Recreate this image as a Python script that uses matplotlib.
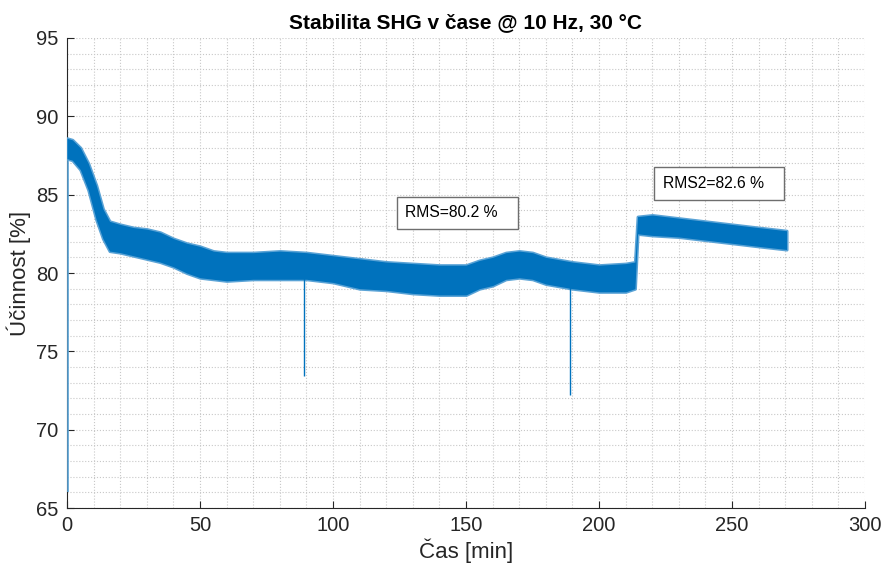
import matplotlib
matplotlib.use("Agg")
import matplotlib.pyplot as plt
from matplotlib.patches import Rectangle
import numpy as np

plt.rcParams.update({
    "font.family": ["Liberation Sans", "DejaVu Sans"],
    "axes.edgecolor": "#262626",
    "xtick.color": "#262626",
    "ytick.color": "#262626",
})

# --- data: envelope of the noisy signal -----------------------------------
t_min = [0, 2, 5, 8, 11, 13.5, 16, 20, 25, 30, 35, 40, 45, 50, 55, 60, 70,
         80, 90, 100, 110, 120, 130, 140, 150, 155, 160, 165, 170, 175, 180,
         190, 200, 210, 213.5, 214.5, 220, 230, 240, 250, 260, 270.5]
eff_upper = [88.6, 88.5, 88.0, 87.0, 85.6, 84.1, 83.3, 83.1, 82.9, 82.8,
             82.6, 82.2, 81.9, 81.7, 81.4, 81.3, 81.3, 81.4, 81.3, 81.1,
             80.9, 80.7, 80.6, 80.5, 80.5, 80.8, 81.0, 81.3, 81.4, 81.3,
             81.0, 80.7, 80.5, 80.6, 80.7, 83.6, 83.7, 83.5, 83.3, 83.1,
             82.9, 82.7]
eff_lower = [87.3, 87.2, 86.6, 85.3, 83.4, 82.2, 81.4, 81.3, 81.1, 80.9,
             80.7, 80.4, 80.0, 79.7, 79.6, 79.5, 79.6, 79.6, 79.6, 79.4,
             79.0, 78.9, 78.7, 78.6, 78.6, 79.0, 79.2, 79.6, 79.7, 79.6,
             79.3, 79.0, 78.8, 78.8, 79.0, 82.5, 82.4, 82.3, 82.1, 81.9,
             81.7, 81.5]

# single-sample dropouts
spike_t = [0.5, 89.2, 189.2]
spike_top = [87.5, 79.8, 79.2]
spike_low = [66.0, 73.4, 72.2]

rms_text = "RMS=80.2 %"
rms2_text = "RMS2=82.6 %"

BLUE = "#0072BD"
BLUE_LIGHT = "#5aa3d6"

fig = plt.figure(figsize=(8.85, 5.67), dpi=100)
ax = fig.add_axes([0.0757, 0.104, 0.9017, 0.829])

# light fringe imitating the noise spikes, then the dense core
ax.fill_between(t_min, eff_lower, eff_upper, color=BLUE, linewidth=2.2,
                edgecolor=BLUE_LIGHT, zorder=3)
ax.fill_between(t_min, eff_lower, eff_upper, color=BLUE, linewidth=0,
                zorder=4)
ax.vlines(spike_t[:1], spike_low[:1], spike_top[:1], color=BLUE_LIGHT,
          linewidth=1.2, zorder=3)
ax.vlines(spike_t[1:], spike_low[1:], spike_top[1:], color=BLUE,
          linewidth=1.0, zorder=3)

ax.set_xlim(0, 300)
ax.set_ylim(65, 95)
ax.set_xticks(np.arange(0, 301, 50))
ax.set_yticks(np.arange(65, 96, 5))
ax.set_xticks(np.arange(0, 301, 10), minor=True)
ax.set_yticks(np.arange(65, 96, 1), minor=True)
ax.tick_params(which="major", direction="in", length=5, width=0.8,
               labelsize=14.5, top=False, right=False, pad=6)
ax.tick_params(which="minor", length=0)
ax.grid(which="both", color="#c8c8c8", linestyle=":", linewidth=0.8, zorder=0)
ax.set_axisbelow(True)
for s in ("top", "right"):
    ax.spines[s].set_visible(False)
for s in ("left", "bottom"):
    ax.spines[s].set_linewidth(0.8)

ax.set_title("Stabilita SHG v čase @ 10 Hz, 30 °C", fontsize=15,
             fontweight="bold", pad=7)
ax.set_xlabel("Čas [min]", fontsize=16, color="#262626", labelpad=2)
ax.set_ylabel("Účinnost [%]", fontsize=16, color="#262626", labelpad=4)

# annotation boxes (axes fraction)
ax.add_patch(Rectangle((0.413, 0.594), 0.152, 0.068, transform=ax.transAxes,
                       facecolor="white", edgecolor="#6e6e6e", linewidth=1.0,
                       zorder=5))
ax.text(0.4236, 0.628, rms_text, transform=ax.transAxes, fontsize=11.3,
        va="center", ha="left", zorder=6)
ax.add_patch(Rectangle((0.7356, 0.655), 0.163, 0.070, transform=ax.transAxes,
                       facecolor="white", edgecolor="#6e6e6e", linewidth=1.0,
                       zorder=5))
ax.text(0.747, 0.69, rms2_text, transform=ax.transAxes, fontsize=11.3,
        va="center", ha="left", zorder=6)

fig.savefig("out.png", dpi=100)
